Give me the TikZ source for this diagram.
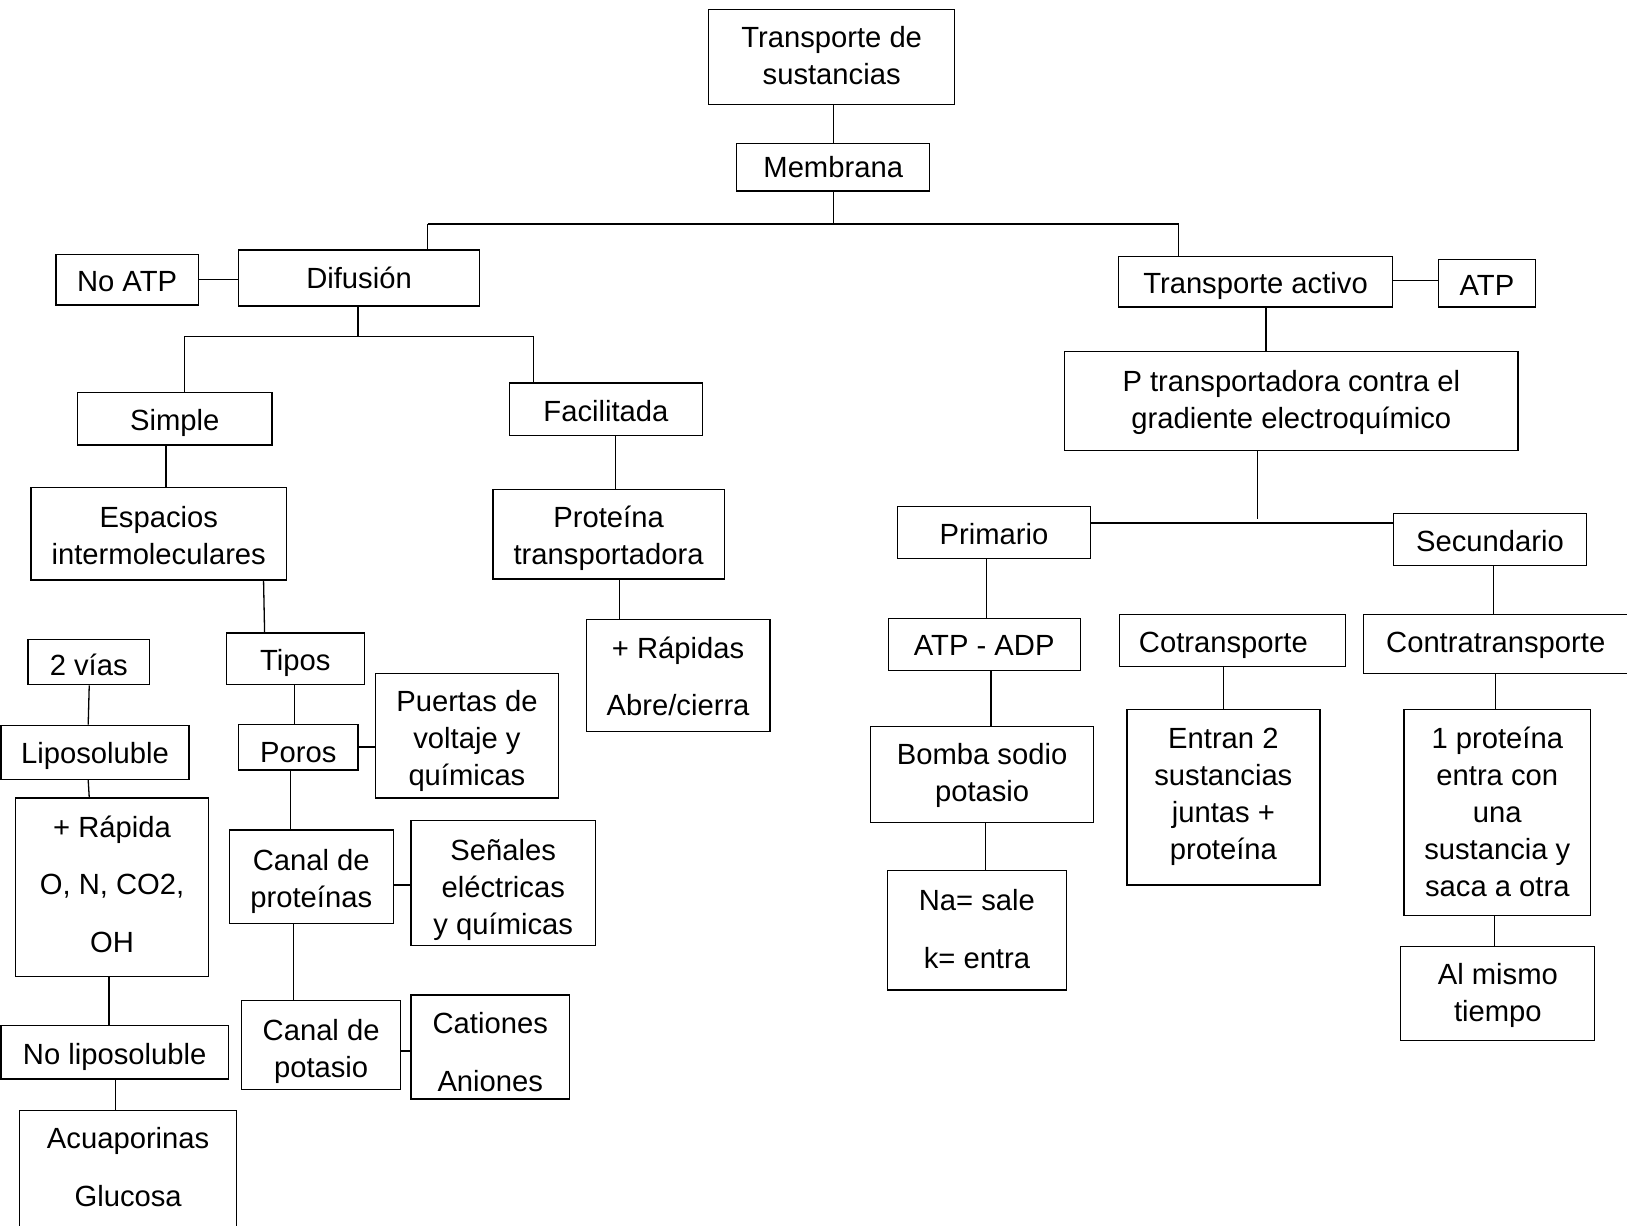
\documentclass[tikz,border=0pt]{standalone}
\usepackage{fontspec}
\setmainfont{Liberation Sans}
\begin{document}
\begin{tikzpicture}[x=0.5188pt,y=-0.5188pt,
  bx/.style={draw, line width=0.65pt, inner sep=0pt},
  tx/.style={inner sep=0pt, align=center,
    font=\fontsize{14.6pt}{18.5pt}\selectfont},
  dy/.style={yshift={-(#1)*0.5188pt}},
  dx/.style={xshift={(#1)*0.5188pt}},
  ln/.style={line width=0.65pt}]
\def\bxw{0.5188pt}
\newcommand\bx[7]{\node[bx, minimum width={(#4-#2)*\bxw}, minimum height={(#5-#3)*\bxw}] (#1) at ({(#2+#4)/2},{(#3+#5)/2}) {};
  \node[tx, #6] (#1-t) at (#1.center) {#7};}
\useasboundingbox[fill=white] (0,0) rectangle (1568,1181);
% top
\bx{top}{683}{9}{920}{101}{dy=-1}{Transporte de\\sustancias}
\bx{memb}{710}{138}{896}{184}{dy=0}{Membrana}
% left branch
\bx{noatp}{54}{245}{191}{294}{dy=2}{No ATP}
\bx{dif}{230}{241}{462}{295}{dy=0}{Difusión}
\bx{simple}{75}{378}{262}{429}{dy=4}{Simple}
\bx{fac}{491}{369}{677}{420}{dy=2}{Facilitada}
\bx{esp}{30}{470}{276}{559}{dy=2}{Espacios\\intermoleculares}
\bx{prot}{475}{472}{698}{558}{dy=4}{Proteína\\transportadora}
\bx{rapidas}{565}{597}{742}{705}{dy=1}{+ Rápidas\\[10.3pt]Abre/cierra}
\bx{tipos}{218}{610}{351}{660}{dy=4}{Tipos}
\bx{dosvias}{27}{616}{144}{660}{dy=3}{2 vías}
\bx{lipo}{1}{699}{182}{751}{dy=4}{Liposoluble}
\bx{rapida}{15}{769}{201}{941}{dy=-3}{+ Rápida\\[10.3pt]O, N, CO2,\\[10.3pt]OH}
\bx{nolipo}{1}{988}{220}{1040}{dy=5}{No liposoluble}
\bx{acua}{19}{1070}{228}{1184}{dy=-2}{Acuaporinas\\[10.3pt]Glucosa}
\bx{poros}{230}{698}{345}{742}{dy=5}{Poros}
\bx{puertas}{362}{649}{538}{769}{dy=5}{Puertas de\\voltaje y\\químicas}
\bx{canalp}{221}{800}{379}{890}{dy=4}{Canal de\\proteínas}
\bx{senales}{396}{791}{574}{911}{dy=7}{Señales\\eléctricas\\y químicas}
\bx{canalk}{233}{964}{386}{1050}{dy=6}{Canal de\\potasio}
\bx{cat}{396}{959}{549}{1059}{dy=5}{Cationes\\[10.3pt]Aniones}
% right branch
\bx{ta}{1078}{247}{1342}{296}{dy=4}{Transporte activo}
\bx{atp}{1386}{250}{1480}{296}{dy=2}{ATP}
\bx{ptr}{1026}{339}{1463}{434}{dy=1}{P transportadora contra el\\gradiente electroquímico}
\bx{prim}{865}{488}{1051}{538}{dy=2}{Primario}
\bx{sec}{1343}{495}{1529}{545}{dy=1}{Secundario}
\bx{atpadp}{856}{596}{1041}{646}{dy=1}{ATP - ADP}
\bx{cot}{1079}{592}{1297}{642}{dy=5,dx=-9}{Cotransporte}
\bx{contra}{1314}{592}{1575}{649}{dy=1,dx=-3}{Contratransporte}
\bx{bomba}{839}{700}{1054}{793}{dy=1}{Bomba sodio\\potasio}
\bx{na}{855}{839}{1028}{954}{dy=-1}{Na= sale\\[10.3pt]k= entra}
\bx{entran}{1086}{684}{1272}{853}{dy=-1}{Entran 2\\sustancias\\juntas +\\proteína}
\bx{unap}{1353}{684}{1533}{882}{dy=-1}{1 proteína\\entra con\\una\\sustancia y\\saca a otra}
\bx{mismo}{1350}{912}{1537}{1003}{dy=2}{Al mismo\\tiempo}
% connectors top
\coordinate (b0) at (803,216);
\coordinate (bl) at (412,216);
\coordinate (br) at (1136,216);
\draw[ln] (top.south -| 803,0) -- (memb.north -| 803,0);
\draw[ln] (memb.south -| 803,0) -- (b0);
\draw[ln] (bl) -- (br);
\draw[ln] (bl) -- (dif.north -| bl);
\draw[ln] (br) -- (ta.north -| br);
% left connectors
\draw[ln] (noatp.east) -- (noatp.east -| dif.west);
\coordinate (d0) at (345,324);
\coordinate (dl) at (178,324);
\coordinate (dr) at (514,324);
\draw[ln] (dif.south -| d0) -- (d0);
\draw[ln] (dl) -- (dr);
\draw[ln] (dl) -- (simple.north -| dl);
\draw[ln] (dr) -- (fac.north -| dr);
\draw[ln] (simple.south -| 160,0) -- (esp.north -| 160,0);
\draw[ln] (fac.south -| 593,0) -- (prot.north -| 593,0);
\draw[ln] (prot.south -| 597,0) -- (rapidas.north -| 597,0);
\draw[ln] (esp.south -| 254,0) -- (tipos.north -| 255,0);
\draw[ln] (dosvias.south -| 86,0) -- (lipo.north -| 85,0);
\draw[ln] (lipo.south -| 85,0) -- (rapida.north -| 86,0);
\draw[ln] (rapida.south -| 105,0) -- (nolipo.north -| 105,0);
\draw[ln] (nolipo.south -| 111,0) -- (acua.north -| 111,0);
\draw[ln] (tipos.south -| 284,0) -- (poros.north -| 284,0);
\draw[ln] (poros.east |- 0,720) -- (puertas.west |- 0,720);
\draw[ln] (poros.south -| 280,0) -- (canalp.north -| 280,0);
\draw[ln] (canalp.east |- 0,853) -- (senales.west |- 0,853);
\draw[ln] (canalp.south -| 283,0) -- (canalk.north -| 283,0);
\draw[ln] (canalk.east |- 0,1013) -- (cat.west |- 0,1013);
% right connectors
\draw[ln] (ta.east |- 0,270) -- (atp.west |- 0,270);
\draw[ln] (ta.south -| 1220,0) -- (ptr.north -| 1220,0);
\coordinate (p0) at (1212,500);
\draw[ln] (ptr.south -| p0) -- (p0);
\draw[ln] (prim.east |- 0,504) -- (sec.west |- 0,504);
\draw[ln] (prim.south -| 951,0) -- (atpadp.north -| 951,0);
\draw[ln] (atpadp.south -| 955,0) -- (bomba.north -| 955,0);
\draw[ln] (bomba.south -| 950,0) -- (na.north -| 950,0);
\draw[ln] (sec.south -| 1439,0) -- (contra.north -| 1439,0);
\draw[ln] (cot.south -| 1179,0) -- (entran.north -| 1179,0);
\draw[ln] (contra.south -| 1441,0) -- (unap.north -| 1441,0);
\draw[ln] (unap.south -| 1440,0) -- (mismo.north -| 1440,0);
\end{tikzpicture}
\end{document}
